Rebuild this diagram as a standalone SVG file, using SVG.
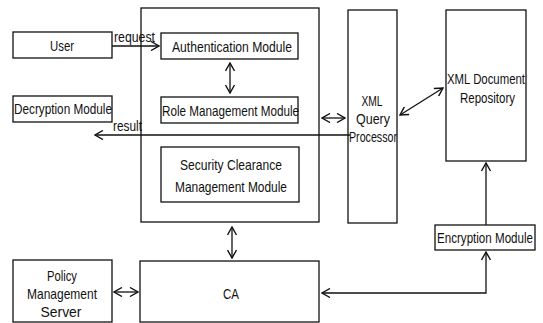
<svg xmlns="http://www.w3.org/2000/svg" width="543" height="323" viewBox="0 0 543 323">
<style>
.box{fill:#fff;stroke:#111;stroke-width:1.3}
.t{font-family:"Liberation Sans",Arial,sans-serif;font-size:15px;fill:#111}
.c{text-anchor:middle}
.ln{fill:none;stroke:#111;stroke-width:1.3}
</style>
<defs>
<marker id="ah" viewBox="0 0 10 10" refX="9" refY="5" markerWidth="10" markerHeight="10" markerUnits="userSpaceOnUse" orient="auto-start-reverse">
<path d="M1,0.5 L9,5 L1,9.5" fill="none" stroke="#111" stroke-width="1.4"/>
</marker>
</defs>
<rect width="543" height="323" fill="#fff"/>
<g id="user"><rect class="box" x="13" y="32" width="99" height="26"/><text class="t c" x="62" y="51" textLength="24" lengthAdjust="spacingAndGlyphs">User</text></g>
<g id="decryption"><rect class="box" x="13" y="96" width="99" height="26"/><text class="t" x="14" y="114" textLength="98" lengthAdjust="spacingAndGlyphs">Decryption Module</text></g>
<g id="server"><rect class="box" x="141" y="8" width="178" height="214"/></g>
<g id="auth"><rect class="box" x="161" y="33" width="137" height="26"/><text class="t" x="172" y="52" textLength="120" lengthAdjust="spacingAndGlyphs">Authentication Module</text></g>
<g id="role"><rect class="box" x="161" y="97" width="137" height="26"/><text class="t" x="162" y="116" textLength="137" lengthAdjust="spacingAndGlyphs">Role Management Module</text></g>
<g id="security"><rect class="box" x="161" y="147" width="138" height="55"/><text class="t" x="180" y="170" textLength="102" lengthAdjust="spacingAndGlyphs">Security Clearance</text><text class="t" x="175" y="192" textLength="112" lengthAdjust="spacingAndGlyphs">Management Module</text></g>
<g id="xmlquery"><rect class="box" x="348" y="10" width="49" height="213"/><text class="t c" x="372" y="106" textLength="21" lengthAdjust="spacingAndGlyphs">XML</text><text class="t c" x="373" y="124" textLength="34" lengthAdjust="spacingAndGlyphs">Query</text><text class="t" x="349" y="142" textLength="48" lengthAdjust="spacingAndGlyphs">Processor</text></g>
<g id="repository"><rect class="box" x="446" y="10" width="80" height="151"/><text class="t" x="447" y="84" textLength="78" lengthAdjust="spacingAndGlyphs">XML Document</text><text class="t" x="460" y="103" textLength="55" lengthAdjust="spacingAndGlyphs">Repository</text></g>
<g id="encryption"><rect class="box" x="435" y="225" width="100" height="25"/><text class="t" x="437" y="243" textLength="96" lengthAdjust="spacingAndGlyphs">Encryption Module</text></g>
<g id="policy"><rect class="box" x="13" y="260" width="99" height="62"/><text class="t c" x="62" y="281" textLength="30" lengthAdjust="spacingAndGlyphs">Policy</text><text class="t c" x="62" y="299" textLength="70" lengthAdjust="spacingAndGlyphs">Management</text><text class="t c" x="61" y="317" textLength="41" lengthAdjust="spacingAndGlyphs">Server</text></g>
<g id="ca"><rect class="box" x="140" y="261" width="179" height="61"/><text class="t c" x="231" y="299" textLength="16" lengthAdjust="spacingAndGlyphs">CA</text></g>
<g id="connectors">
<line class="ln" x1="112" y1="46" x2="159" y2="46" marker-end="url(#ah)"/>
<text class="t" x="114" y="42" textLength="41" lengthAdjust="spacingAndGlyphs">request</text>
<line class="ln" x1="230" y1="63" x2="230" y2="93" marker-start="url(#ah)" marker-end="url(#ah)"/>
<line class="ln" x1="322" y1="118" x2="345" y2="118" marker-start="url(#ah)" marker-end="url(#ah)"/>
<line class="ln" x1="350" y1="135" x2="95" y2="135" marker-end="url(#ah)"/>
<text class="t" x="113" y="131" textLength="29" lengthAdjust="spacingAndGlyphs">result</text>
<line class="ln" x1="400" y1="115" x2="443" y2="88" marker-start="url(#ah)" marker-end="url(#ah)"/>
<line class="ln" x1="232" y1="227" x2="232" y2="258" marker-start="url(#ah)" marker-end="url(#ah)"/>
<line class="ln" x1="114" y1="292" x2="138" y2="292" marker-start="url(#ah)" marker-end="url(#ah)"/>
<path class="ln" d="M322,293 H486 V252" marker-start="url(#ah)" marker-end="url(#ah)"/>
<line class="ln" x1="486" y1="225" x2="486" y2="163" marker-end="url(#ah)"/>
</g>
</svg>
